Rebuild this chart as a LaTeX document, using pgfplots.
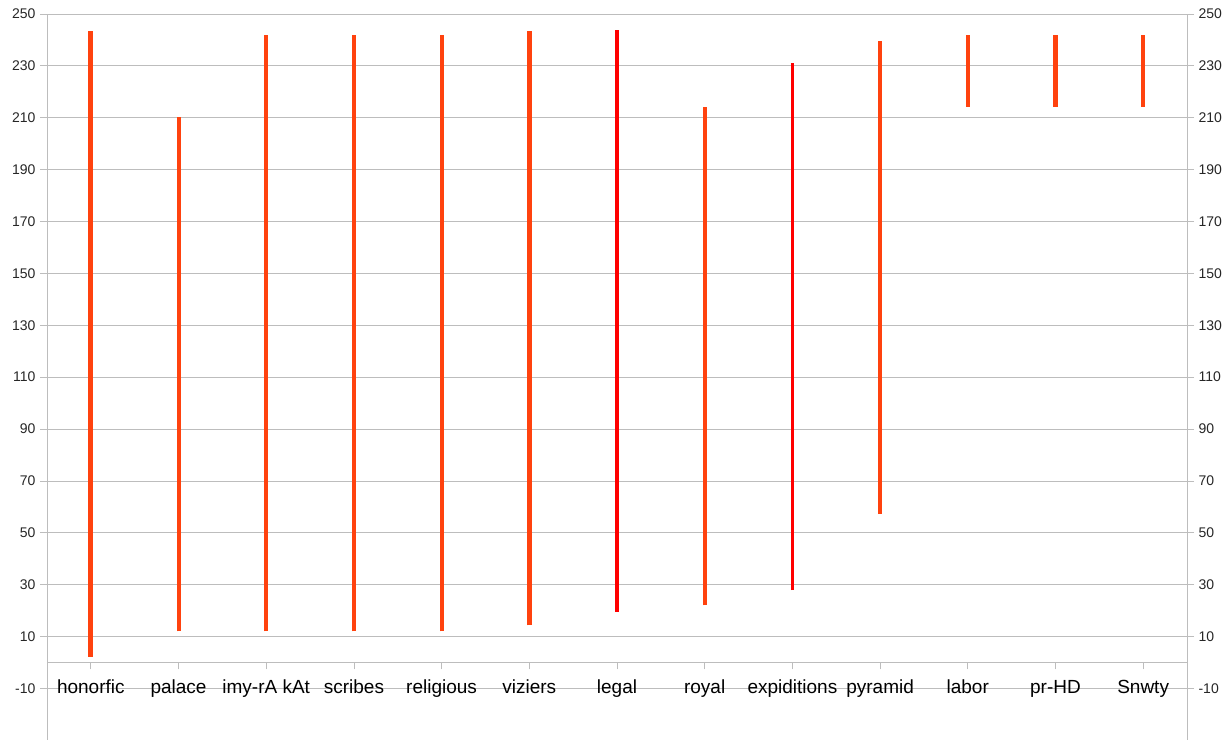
\documentclass[border=0pt]{standalone}
\usepackage{fontspec}
\setmainfont{Liberation Sans}
\usepackage{pgfplots}
\pgfplotsset{compat=1.18}
\definecolor{lo}{HTML}{FF420E}
\definecolor{lred}{HTML}{FF0000}
\definecolor{gridc}{HTML}{BDBDBD}
\begin{document}
\begin{tikzpicture}
\pgfplotsset{
  base/.style={
    scale only axis, width=1140pt, height=725.8pt,
    xmin=-0.5, xmax=12.5, ymin=-29.8, ymax=250,
    ytick={-30,-10,10,30,50,70,90,110,130,150,170,190,210,230,250},
    /pgf/number format/assume math mode=true,
    tick align=outside, major tick length=7pt,
    tick style={gridc, line width=0.8pt},
    axis line style={gridc, line width=0.8pt},
    yticklabel style={font=\fontsize{14}{16}\selectfont, text=black!85},
  }
}
\begin{axis}[base,
  axis x line*=middle, axis y line*=box, ytick pos=left,
  ymajorgrids, grid style={gridc, line width=0.8pt},
  xtick={0,1,2,3,4,5,6,7,8,9,10,11,12},
  xticklabels={honorfic,palace,imy-rA kAt,scribes,religious,viziers,legal,royal,expiditions,pyramid,labor,pr-HD,Snwty},
  xticklabel style={font=\fontsize{19}{22}\selectfont, text=black, anchor=base, yshift=-24pt},
  yticklabel style={xshift=-1pt},
  clip=false,
]
\addplot[lo, line width=5pt] coordinates {(0,2.3) (0,243.5)};
\addplot[lo, line width=4pt] coordinates {(1,12) (1,210.4)};
\addplot[lo, line width=4pt] coordinates {(2,12) (2,241.8)};
\addplot[lo, line width=4.3pt] coordinates {(3,12) (3,241.8)};
\addplot[lo, line width=4pt] coordinates {(4,12) (4,241.8)};
\addplot[lo, line width=4.5pt] coordinates {(5,14.3) (5,243.5)};
\addplot[lred, line width=3.3pt] coordinates {(6,19.5) (6,243.8)};
\addplot[lo, line width=4pt] coordinates {(7,22) (7,214.3)};
\addplot[lred, line width=3.3pt] coordinates {(8,27.9) (8,231.2)};
\addplot[lo, line width=4.5pt] coordinates {(9,57.2) (9,239.5)};
\addplot[lo, line width=4.5pt] coordinates {(10,214.3) (10,241.8)};
\addplot[lo, line width=4.5pt] coordinates {(11,214.3) (11,241.8)};
\addplot[lo, line width=4.5pt] coordinates {(12,214.3) (12,241.8)};
\end{axis}
\begin{axis}[base,
  axis x line=none, axis y line*=right,
  yticklabel style={xshift=1pt},
]
\end{axis}
\pgfresetboundingbox
\path[use as bounding box] ([xshift=-47pt,yshift=-6.2pt]current axis.south west) rectangle ([xshift=40pt,yshift=14pt]current axis.north east);
\end{tikzpicture}
\end{document}
